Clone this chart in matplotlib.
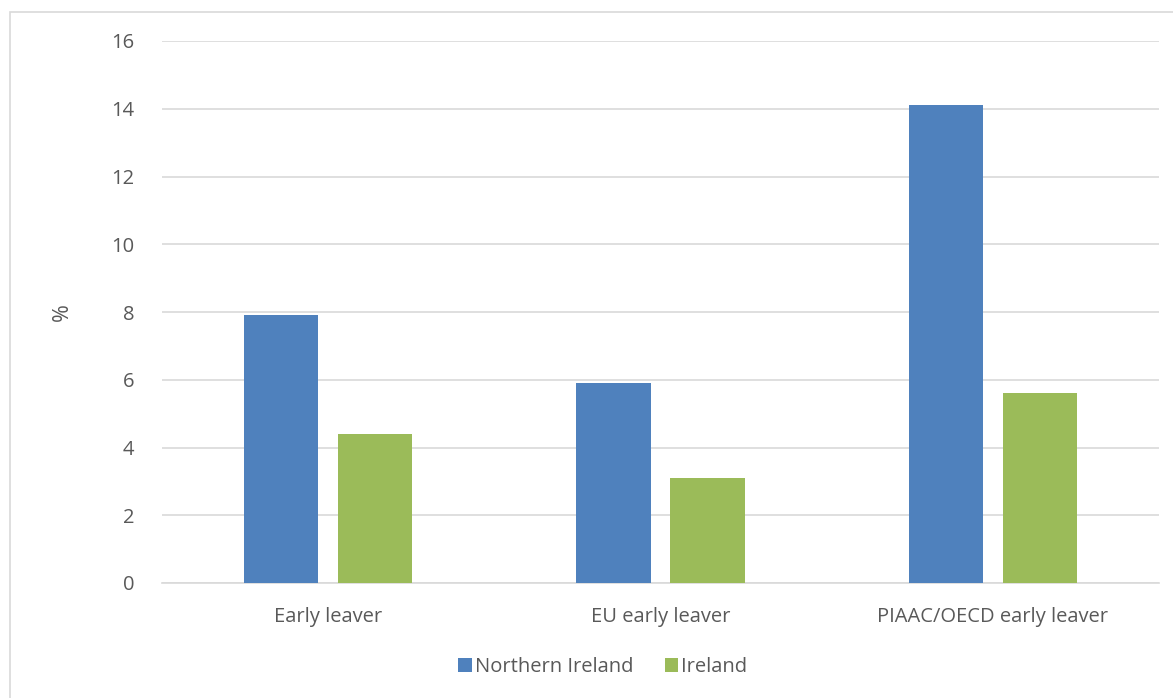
import matplotlib
matplotlib.use("Agg")
import matplotlib.pyplot as plt
import numpy as np
from matplotlib.patches import Rectangle

categories = ["Early leaver", "EU early leaver", "PIAAC/OECD early leaver"]
northern_ireland = [7.9, 5.9, 14.1]
ireland = [4.4, 3.1, 5.6]
yticks = [0, 2, 4, 6, 8, 10, 12, 14, 16]

blue = "#4F81BD"
green = "#9BBB59"
text_color = "#595959"
grid_color = "#D9D9D9"
fs = 14.5

plt.rcParams["font.family"] = ["Open Sans", "DejaVu Sans"]

fig = plt.figure(figsize=(11.73, 6.98), dpi=100)
# outer chart border
fig.patches.append(Rectangle((10 / 1173, -0.01), 1.2, 1 - 12 / 698 + 0.01,
                             transform=fig.transFigure, fill=False,
                             edgecolor=grid_color, linewidth=1.2))

ax = fig.add_axes([162 / 1173, 1 - 583 / 698, (1159 - 162) / 1173, (583 - 41) / 698])

x = np.arange(len(categories))
w = 0.223
gap = 0.06
ax.bar(x - (w + gap) / 2, northern_ireland, width=w, color=blue,
       label="Northern Ireland", zorder=3)
ax.bar(x + (w + gap) / 2, ireland, width=w, color=green,
       label="Ireland", zorder=3)

ax.set_xlim(-0.5, len(categories) - 0.5)
ax.set_ylim(0, 16)
ax.set_yticks(yticks)
ax.set_yticklabels([str(t) for t in yticks])
ax.set_xticks(x)
ax.set_xticklabels(categories)
ax.tick_params(axis="both", length=0, labelsize=fs, colors=text_color)
ax.tick_params(axis="y", pad=20)
ax.tick_params(axis="x", pad=17)
ax.yaxis.grid(True, color=grid_color, linewidth=1.2, zorder=0)
for s in ["top", "right", "left"]:
    ax.spines[s].set_visible(False)
ax.spines["bottom"].set_color(grid_color)
ax.spines["bottom"].set_linewidth(1.2)

fig.text(62 / 1173, 1 - 312 / 698, "%", rotation=90, fontsize=fs + 1,
         color=text_color, ha="center", va="center")

leg = fig.legend(loc="center", bbox_to_anchor=(603 / 1173, 1 - 667 / 698), ncol=2,
                 frameon=False, fontsize=fs, handlelength=0.65, handleheight=0.65,
                 handletextpad=0.15, columnspacing=1.6)
for t in leg.get_texts():
    t.set_color(text_color)

fig.savefig("out.png", dpi=100)
